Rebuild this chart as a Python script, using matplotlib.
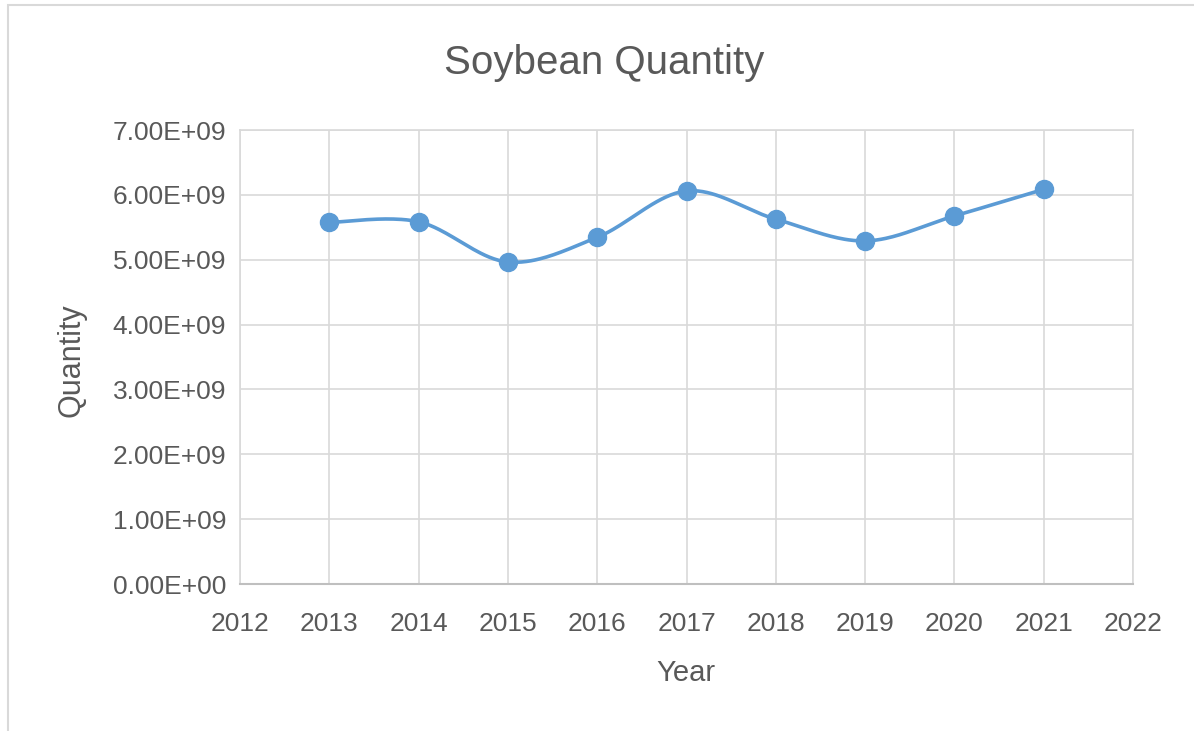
import numpy as np
import matplotlib.pyplot as plt
from matplotlib.patches import Rectangle
from matplotlib.ticker import FuncFormatter

years = [2013, 2014, 2015, 2016, 2017, 2018, 2019, 2020, 2021]
quantity = [5.575e9, 5.585e9, 4.965e9, 5.345e9, 6.060e9, 5.625e9, 5.290e9, 5.675e9, 6.085e9]

line_color = '#5B9BD5'
text_color = '#595959'
grid_color = '#D9D9D9'


def smooth_curve(x, y, n=40, tension=1/6):
    """Excel-style smoothed line: cubic Bezier segments through the points."""
    x = np.asarray(x, float)
    y = np.asarray(y, float)
    px, py = [], []
    for i in range(len(x) - 1):
        x0, y0 = (x[i - 1], y[i - 1]) if i > 0 else (x[i], y[i])
        x3, y3 = (x[i + 2], y[i + 2]) if i + 2 < len(x) else (x[i + 1], y[i + 1])
        c1x = x[i] + (x[i + 1] - x0) * tension
        c1y = y[i] + (y[i + 1] - y0) * tension
        c2x = x[i + 1] - (x3 - x[i]) * tension
        c2y = y[i + 1] - (y3 - y[i]) * tension
        t = np.linspace(0, 1, n)
        b0, b1, b2, b3 = (1 - t) ** 3, 3 * t * (1 - t) ** 2, 3 * t ** 2 * (1 - t), t ** 3
        px.append(b0 * x[i] + b1 * c1x + b2 * c2x + b3 * x[i + 1])
        py.append(b0 * y[i] + b1 * c1y + b2 * c2y + b3 * y[i + 1])
    return np.concatenate(px), np.concatenate(py)


plt.rcParams['font.family'] = ['Liberation Sans', 'DejaVu Sans']

W, H = 1194, 731
fig = plt.figure(figsize=(W / 100, H / 100), dpi=100)
ax = fig.add_axes([240 / W, 1 - 584 / H, (1133 - 240) / W, (584 - 130) / H])

# chart border (only left and top edges are visible in the reference)
fig.patches.append(Rectangle((8 / W, -0.1), 1.2, 1 - 5 / H + 0.1,
                             transform=fig.transFigure, fill=False,
                             edgecolor='#D9D9D9', linewidth=1.5))

sx, sy = smooth_curve(years, quantity)
ax.plot(sx, sy, color=line_color, linewidth=2.6, solid_capstyle='round', zorder=3)
ax.plot(years, quantity, 'o', color=line_color, markersize=13, zorder=4)

ax.set_xlim(2012, 2022)
ax.set_ylim(0, 7e9)
ax.set_xticks(range(2012, 2023))
ax.set_yticks(np.arange(0, 7.5e9, 1e9))
ax.yaxis.set_major_formatter(FuncFormatter(lambda v, p: f"{v:.2E}"))

ax.grid(True, color=grid_color, linewidth=1.2)
ax.set_axisbelow(True)
for side in ['top', 'right', 'left']:
    ax.spines[side].set_color(grid_color)
    ax.spines[side].set_linewidth(1.2)
ax.spines['bottom'].set_color('#BFBFBF')
ax.spines['bottom'].set_linewidth(1.5)
ax.tick_params(length=0, labelsize=19, colors=text_color)
ax.tick_params(axis='x', pad=20)
ax.tick_params(axis='y', pad=10)

fig.text(604 / W, 1 - 63 / H, 'Soybean Quantity', fontsize=29, color=text_color,
         ha='center', va='center')
fig.text(686 / W, 1 - 673 / H, 'Year', fontsize=21, color=text_color,
         ha='center', va='center')
fig.text(72 / W, 1 - 360 / H, 'Quantity', fontsize=22, color=text_color,
         ha='center', va='center', rotation=90)

fig.savefig('out.png', dpi=100, facecolor='white')
